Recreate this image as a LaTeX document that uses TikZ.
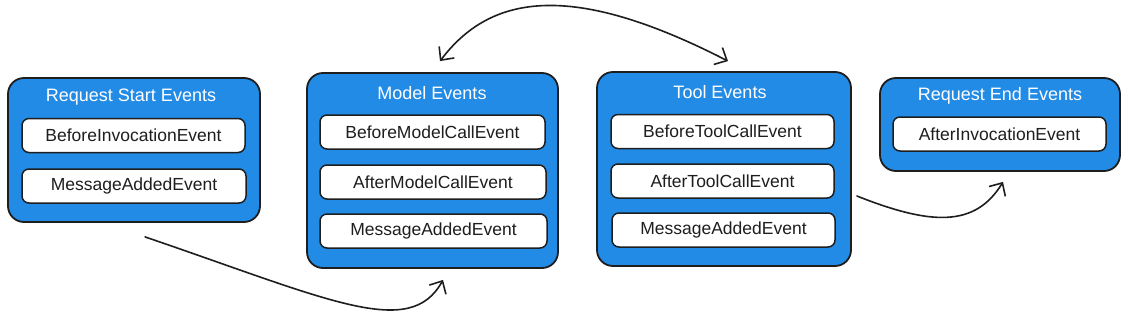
\documentclass[tikz,border=0pt]{standalone}
\usepackage{fontspec}
\setmainfont{Liberation Sans}
\usetikzlibrary{arrows.meta,calc}
\definecolor{evblue}{RGB}{34,139,230}
\definecolor{ink}{RGB}{30,30,30}
\tikzset{
  group/.style={draw=ink, line width=1.8pt, fill=evblue, rounded corners=16pt, inner sep=0pt},
  item/.style={draw=ink, line width=1.5pt, fill=white, rounded corners=7pt, inner sep=0pt,
     minimum height=34pt, text=ink, font=\fontsize{17.5}{20}\selectfont},
  gtitle/.style={text=white, font=\fontsize{18}{20}\selectfont, inner sep=0pt},
  conn/.style={draw=ink, line width=1.6pt, line cap=round,
     -{Straight Barb[length=10pt,width=19pt,line width=1.6pt]}},
  conn2/.style={draw=ink, line width=1.6pt, line cap=round,
     {Straight Barb[length=10pt,width=19pt,line width=1.6pt]}-{Straight Barb[length=10pt,width=19pt,line width=1.6pt]}}
}
\begin{document}
\begin{tikzpicture}[x=1pt,y=-1pt]
\useasboundingbox (0,0) rectangle (1140,321);
% groups
\node[group, minimum width=252pt, minimum height=144pt] (rs) at (134,150) {};
\node[group, minimum width=251pt, minimum height=195pt] (me) at (432.5,170.5) {};
\node[group, minimum width=254pt, minimum height=194pt] (te) at (724,169) {};
\node[group, minimum width=240pt, minimum height=93pt] (re) at (1000,124.5) {};
% titles
\node[gtitle] (rst) at (131,97) {Request Start Events};
\node[gtitle] (met) at (432,93) {Model Events};
\node[gtitle] (tet) at (720,92) {Tool Events};
\node[gtitle] (ret) at (1000,96) {Request End Events};
% items
\node[item, minimum width=223pt] (rs1) at (133.5,135.5) {BeforeInvocationEvent};
\node[item, minimum width=224pt] (rs2) at (134,186) {MessageAddedEvent};
\node[item, minimum width=225pt] (me1) at (432.5,132) {BeforeModelCallEvent};
\node[item, minimum width=226pt] (me2) at (433,182) {AfterModelCallEvent};
\node[item, minimum width=227pt] (me3) at (433.5,231) {MessageAddedEvent};
\node[item, minimum width=223pt] (te1) at (722.5,131.5) {BeforeToolCallEvent};
\node[item, minimum width=223pt] (te2) at (722.5,181) {AfterToolCallEvent};
\node[item, minimum width=223pt] (te3) at (723.5,230) {MessageAddedEvent};
\node[item, minimum width=213pt] (re1) at (999.5,134) {AfterInvocationEvent};
% connector end points
\coordinate (a1s) at ($(rs.south)+(11,14)$);
\coordinate (a1e) at ($(me.south)+(10.5,11)$);
\coordinate (a2s) at ($(me.north)+(7.5,-11)$);
\coordinate (a2e) at ($(te.north)+(4,-10)$);
\coordinate (a3s) at ($(te.east)+(5,27)$);
\coordinate (a3e) at ($(re.south)+(3,10)$);
% connectors
\draw[conn] (a1s) .. controls (330,300) and (410,340) .. (a1e);
\draw[conn2] (a2s) .. controls (490,-5) and (570,-20) .. (a2e);
\draw[conn] (a3s) .. controls (930,225) and (975,228) .. (a3e);
\end{tikzpicture}
\end{document}
